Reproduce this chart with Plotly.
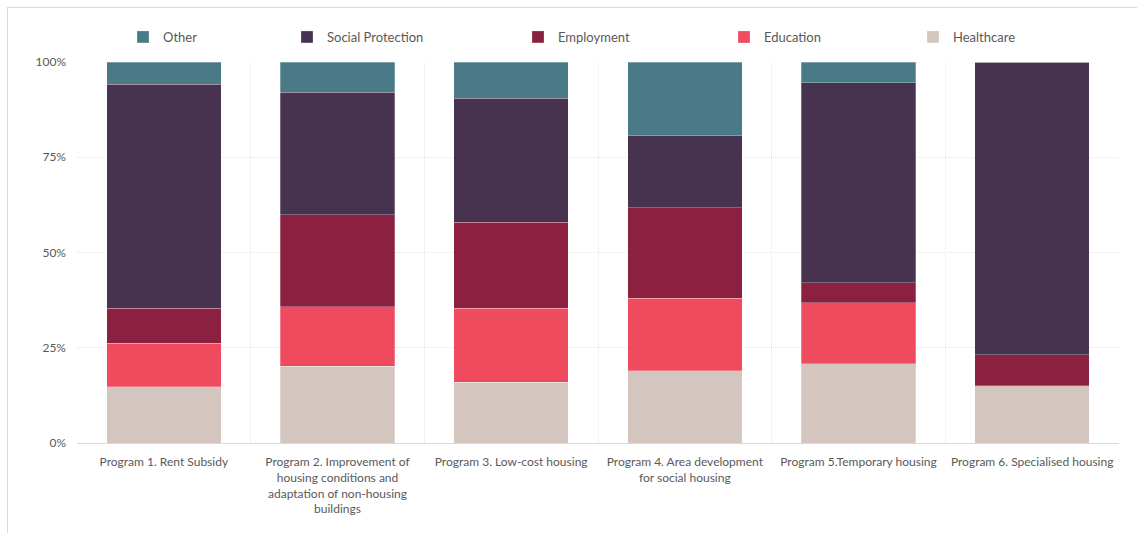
import plotly.graph_objects as go

# Programme categories (x axis)
programs = [
    "Program 1. Rent Subsidy",
    "Program 2. Improvement of<br>housing conditions and<br>adaptation of non-housing<br>buildings",
    "Program 3. Low-cost housing",
    "Program 4. Area development<br>for social housing",
    "Program 5.Temporary housing",
    "Program 6. Specialised housing",
]

# Share of each policy area per programme (%)
healthcare = [14.7, 20.1, 15.9, 19.0, 20.8, 15.0]
education = [11.5, 15.6, 19.5, 19.0, 16.0, 0.0]
employment = [9.2, 24.2, 22.6, 23.7, 5.2, 8.2]
social_protection = [58.8, 32.1, 32.5, 19.1, 52.6, 76.8]
other = [5.8, 8.0, 9.5, 19.2, 5.4, 0.0]

y_ticks = [0, 25, 50, 75, 100]
y_tick_text = ["0%", "25%", "50%", "75%", "100%"]

# name, values, colour, legend entry width (px)
series = [
    ("Healthcare", healthcare, "#d4c6be", 70),
    ("Education", education, "#ef4b5e", 144),
    ("Employment", employment, "#8b2040", 161),
    ("Social Protection", social_protection, "#47334f", 186),
    ("Other", other, "#4a7a87", 119),
]

TEXT = "#595959"
FONT = "Lato, 'Open Sans', sans-serif"
GRID = "#e6e6e6"

fig = go.Figure()
for name, vals, color, lw in series:
    fig.add_trace(go.Bar(
        name=name,
        x=programs,
        y=vals,
        marker=dict(color=color, line=dict(color="rgba(255,255,255,0.45)", width=0.6)),
        legendwidth=lw,
    ))

W, H = 1137, 533
L, R, T, B = 77, 18, 62, 90
pw, ph = W - L - R, H - T - B


def px_x(x):
    return (x - L) / pw


def px_y(y):
    return 1 - (y - T) / ph


fig.update_layout(
    width=W,
    height=H,
    margin=dict(l=L, r=R, t=T, b=B),
    barmode="stack",
    bargap=0.34,
    plot_bgcolor="white",
    paper_bgcolor="white",
    font=dict(family=FONT, color=TEXT, size=12),
    legend=dict(
        orientation="h",
        traceorder="reversed",
        x=px_x(123),
        xanchor="left",
        y=px_y(37),
        yanchor="middle",
        font=dict(size=13, color=TEXT),
        bgcolor="rgba(0,0,0,0)",
    ),
    xaxis=dict(
        tickson="boundaries",
        showgrid=True,
        gridcolor=GRID,
        griddash="1px,1px",
        gridwidth=1,
        showline=True,
        linecolor="#d9d9d9",
        linewidth=1,
        ticks="",
        ticklabelstandoff=8,
        tickfont=dict(size=12, color=TEXT),
    ),
    yaxis=dict(
        range=[0, 100],
        tickmode="array",
        tickvals=y_ticks,
        ticktext=y_tick_text,
        showgrid=True,
        gridcolor=GRID,
        griddash="1px,1px",
        gridwidth=1,
        zeroline=False,
        ticks="",
        ticklabelstandoff=10,
        tickfont=dict(size=12, color=TEXT),
    ),
    shapes=[
        # outer chart frame (top and left edges)
        dict(type="line", xref="paper", yref="paper",
             x0=px_x(7), x1=px_x(1150), y0=px_y(7.5), y1=px_y(7.5),
             line=dict(color="#d9d9d9", width=1)),
        dict(type="line", xref="paper", yref="paper",
             x0=px_x(7.5), x1=px_x(7.5), y0=px_y(7), y1=px_y(545),
             line=dict(color="#d9d9d9", width=1)),
    ],
)

fig.write_html("out.html")
